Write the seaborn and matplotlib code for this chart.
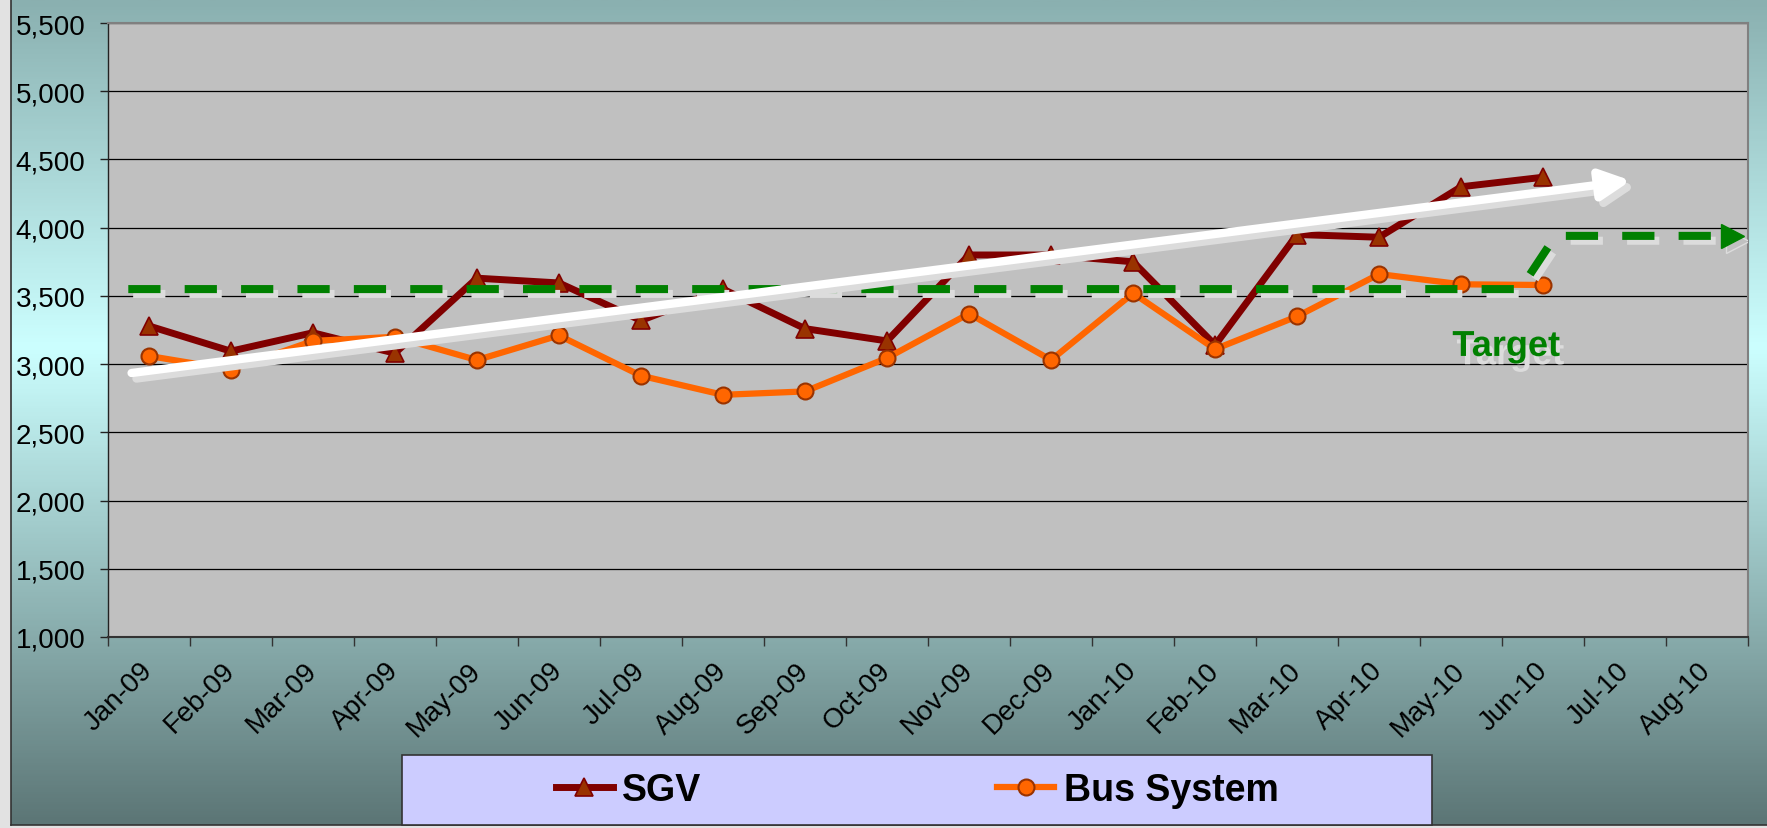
import numpy as np
import matplotlib
matplotlib.use('Agg')
import matplotlib.pyplot as plt
import matplotlib.patheffects as pe
from matplotlib.patches import Rectangle
from matplotlib.colors import LinearSegmentedColormap
import seaborn as sns

# monthly ridership
months = ['Jan-09', 'Feb-09', 'Mar-09', 'Apr-09', 'May-09', 'Jun-09', 'Jul-09',
          'Aug-09', 'Sep-09', 'Oct-09', 'Nov-09', 'Dec-09', 'Jan-10', 'Feb-10',
          'Mar-10', 'Apr-10', 'May-10', 'Jun-10', 'Jul-10', 'Aug-10']
sgv = [3280, 3095, 3230, 3080, 3630, 3595, 3320, 3550, 3260, 3170,
       3800, 3800, 3750, 3140, 3950, 3930, 4300, 4370]
bus = [3060, 2960, 3170, 3200, 3030, 3210, 2915, 2775, 2800, 3045,
       3370, 3030, 3520, 3110, 3350, 3660, 3585, 3580]

yticks = [1000, 1500, 2000, 2500, 3000, 3500, 4000, 4500, 5000, 5500]
ytick_labels = ['1,000', '1,500', '2,000', '2,500', '3,000', '3,500',
                '4,000', '4,500', '5,000', '5,500']

# target line (hand drawn on the original) and trend arrow
target_x = [-0.25, 16.72, 17.15, 19.31]
target_y = [3550, 3550, 3940, 3940]
trend_start = (-0.21, 2935)
trend_end = (18.07, 4345)

plt.rcParams['font.family'] = ['Liberation Sans', 'DejaVu Sans']

W, H = 1767, 829
fig = plt.figure(figsize=(W / 100, H / 100), dpi=100, facecolor='#e2e2e2')

# background gradient
bg = fig.add_axes([0, 0, 1, 1], zorder=-10)
cmap = LinearSegmentedColormap.from_list(
    'bg', [(0, '#8ab0b0'), (0.42, '#ccffff'), (1.0, '#5c7676')])
grad = np.linspace(0, 1, 400).reshape(-1, 1)
bg.imshow(grad, cmap=cmap, aspect='auto', origin='upper',
          extent=[11 / W, 1, 3 / H, 1])
bg.plot([11 / W, 11 / W], [3 / H, 1], color='#333333', lw=1.2)
bg.plot([11 / W, 1], [3 / H, 3 / H], color='#333333', lw=1.2)
bg.set_xlim(0, 1)
bg.set_ylim(0, 1)
bg.axis('off')

ax = fig.add_axes([0.0610, 0.2304, 0.9894 - 0.0610, 0.9710 - 0.2304])
ax.set_facecolor('#c0c0c0')

x = np.arange(len(sgv))
sns.lineplot(x=x, y=sgv, ax=ax, color='#800000', lw=5, marker='^', ms=13,
             mfc='#993300', mec='#800000', mew=1.2, label='SGV', zorder=3)
sns.lineplot(x=x, y=bus, ax=ax, color='#ff6600', lw=4.5, marker='o', ms=11.5,
             mfc='#ff6600', mec='#993300', mew=1.5, label='Bus System', zorder=3)
handles = list(ax.lines[:2])
ax.get_legend().remove()

# target
ax.plot(target_x, target_y, color='#008000', lw=5.8, dashes=(4, 3),
        dash_capstyle='butt', marker='>', markevery=[len(target_x) - 1],
        ms=17, zorder=4,
        path_effects=[pe.SimpleLineShadow(offset=(3.5, -3.5), shadow_color='#dcdcdc', alpha=1),
                      pe.Normal()])
ax.text(16.55, 3060, 'Target', color='#008000', fontsize=26, fontweight='bold',
        ha='center', va='baseline', zorder=6,
        path_effects=[pe.withSimplePatchShadow(offset=(3, -6), shadow_rgbFace='#dcdcdc', alpha=1)])

# trend arrow
ax.annotate('', xy=trend_end, xytext=trend_start, zorder=5,
            arrowprops=dict(arrowstyle='-|>,head_length=0.9,head_width=0.45',
                            mutation_scale=20, lw=6, color='white',
                            shrinkA=0, shrinkB=0,
                            path_effects=[pe.SimpleLineShadow(offset=(3.5, -4), shadow_color='#dcdcdc', alpha=1),
                                          pe.SimplePatchShadow(offset=(3.5, -4), shadow_rgbFace='#dcdcdc', alpha=1),
                                          pe.Normal()]))

ax.set_xlim(-0.5, len(months) - 0.5)
ax.set_ylim(1000, 5500)
ax.set_xlabel('')
ax.set_ylabel('')
ax.set_yticks(yticks)
ax.set_yticklabels(ytick_labels, fontsize=20)
ax.grid(axis='y', color='black', lw=0.9)
ax.set_axisbelow(True)
ax.tick_params(axis='y', length=6, width=1, color='#222222', pad=10)

ax.set_xticks(np.arange(-0.5, len(months), 1))
ax.set_xticklabels([])
ax.set_xticks(np.arange(len(months)), minor=True)
ax.set_xticklabels(months, minor=True, rotation=45, ha='right', va='center',
                   rotation_mode='anchor', fontsize=20)
ax.tick_params(axis='x', which='major', length=6.5, width=1, color='#333333')
ax.tick_params(axis='x', which='minor', length=0, pad=21)

for side in ['top', 'right']:
    ax.spines[side].set_color('#808080')
    ax.spines[side].set_linewidth(1.5)
ax.spines['left'].set_color('#222222')
ax.spines['left'].set_linewidth(1)
ax.spines['bottom'].set_color('#333333')
ax.spines['bottom'].set_linewidth(1.5)

# legend box
fig.add_artist(Rectangle((0.2275, 3 / H), 0.5827, 0.0881 - 3 / H,
                         transform=fig.transFigure, facecolor='#ccccff',
                         edgecolor='#333333', lw=1.2, zorder=2))
fig.legend(handles, ['SGV', 'Bus System'], loc='center',
           bbox_to_anchor=(0.519, 0.0458), ncol=2, frameon=False,
           prop=dict(weight='bold', size=27), handlelength=1.52,
           handletextpad=0.25, columnspacing=7.9)

fig.savefig('out.png', dpi=100, facecolor=fig.get_facecolor())
